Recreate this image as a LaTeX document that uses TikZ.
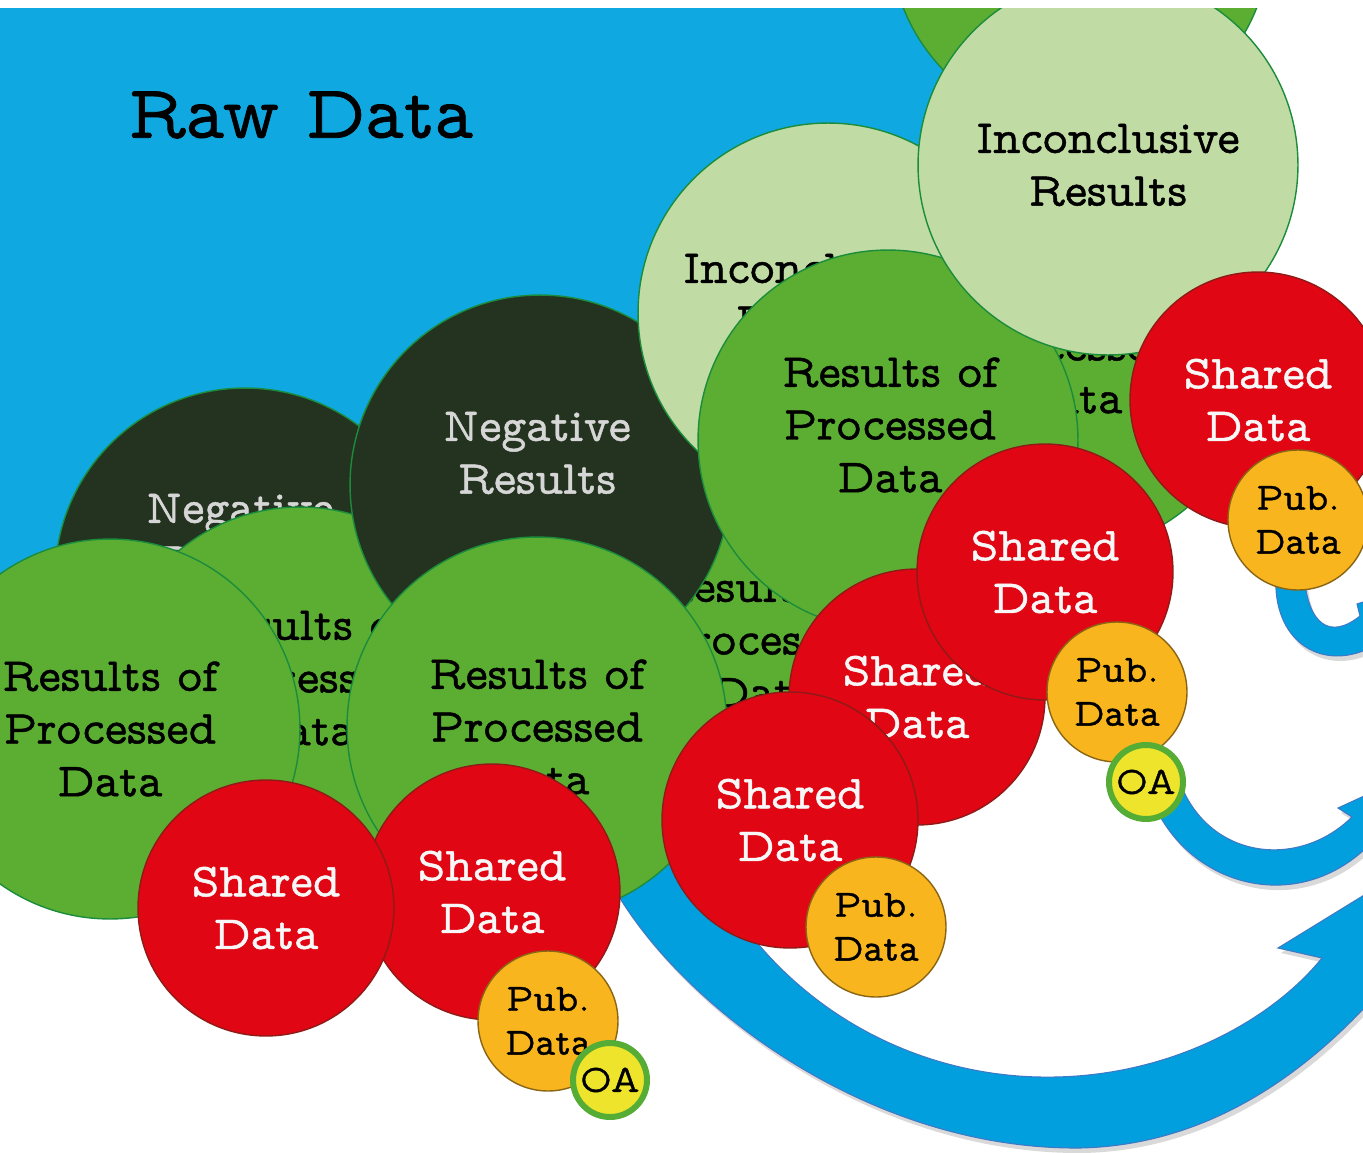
\documentclass[tikz,border=0pt]{standalone}
\usepackage{fontspec}
\usepackage{tikz}
\usetikzlibrary{shapes,positioning,shadows}
\newfontfamily\typewr{lmmonoprop10-regular.otf}[FakeBold=1.0]

\definecolor{rawblue}{HTML}{10A8E0}
\definecolor{flowblue}{HTML}{029FDF}
\definecolor{flowrim}{HTML}{3F78C4}
\definecolor{procgreen}{HTML}{5BAE32}
\definecolor{rimgreen}{HTML}{1B8C3C}
\definecolor{palegreen}{HTML}{C0DBA3}
\definecolor{negdark}{HTML}{243320}
\definecolor{negink}{HTML}{D6D6D6}
\definecolor{sharered}{HTML}{E10613}
\definecolor{redrim}{HTML}{8E1B17}
\definecolor{puborange}{HTML}{F8B51D}
\definecolor{orangerim}{HTML}{8A6516}
\definecolor{oayellow}{HTML}{EEE42B}
\definecolor{oarim}{HTML}{56AD35}

\begin{document}
\begin{tikzpicture}[x=0.02cm, y=-0.02cm,
    bubble/.style={circle, inner sep=0pt, align=center, line width=0.8pt,
        font=\typewr\fontsize{27}{30}\selectfont},
    results/.style={bubble, minimum size=7.6cm, fill=procgreen, draw=rimgreen},
    unclear/.style={bubble, minimum size=7.6cm, fill=palegreen, draw=rimgreen},
    negative/.style={bubble, minimum size=7.6cm, fill=negdark, draw=rimgreen},
    caption/.style={align=center, font=\typewr\fontsize{27}{30}\selectfont},
    negtext/.style={caption, text=negink},
    shared/.style={bubble, minimum size=5.12cm, fill=sharered, draw=redrim, text=white!94!gray},
    pub/.style={bubble, minimum size=2.8cm, fill=puborange, draw=orangerim,
        font=\typewr\fontsize{22}{25}\selectfont},
    oa/.style={bubble, minimum size=1.48cm, fill=oayellow, draw=oarim, line width=0.12cm,
        font=\typewr\fontsize{22}{25}\selectfont},
    flow/.style={fill=flowblue, draw=flowrim, line width=0.6pt,
        drop shadow={shadow xshift=0.6mm, shadow yshift=-1mm, opacity=0.25, fill=black!60}}
]
    \useasboundingbox (0,0) rectangle (1363,1153);
    \clip (0,8) rectangle (1363,1153);

    % raw data field
    \fill[rawblue] (0,8) rectangle (1000,780);
    \node[font=\typewr\fontsize{43}{48}\selectfont] (title) at (301,115) {Raw Data};

    % flows out to the right
    \filldraw[flow] (600,860) .. controls (650,980) and (850,1150) .. (1080,1148)
        .. controls (1220,1145) and (1320,1060) .. (1385,985)
        -- (1425,1000) -- (1470,830) -- (1278,948) -- (1322,958)
        .. controls (1270,1022) and (1170,1075) .. (1055,1077)
        .. controls (900,1080) and (760,990) .. (700,850) -- cycle;
    \filldraw[flow] (1150,795) .. controls (1185,888) and (1300,918) .. (1372,842)
        -- (1392,850) -- (1425,768) -- (1338,808) -- (1352,817)
        .. controls (1300,868) and (1215,860) .. (1183,790) -- cycle;
    \filldraw[flow] (1276,575) .. controls (1272,640) and (1320,672) .. (1370,648)
        -- (1390,650) -- (1400,590) -- (1357,604) -- (1360,616)
        .. controls (1330,640) and (1308,625) .. (1304,575) -- cycle;

    % results, back to front
    \node[results] (topres) at (1080,-62) {};
    \node[results] (backres) at (1065,362) {};
    \node[caption] (backres-t) at (1070,346) {Results of\\Processed\\Data};
    \node[results] (midres) at (760,652) {};
    \node[caption] (midres-t) at (765,640) {Results of\\Processed\\Data};
    \node[negative] (negleft) at (245,578) {};
    \node[negtext] (negleft-t) at (240,535) {Negative\\Results};
    \node[results] (backleft) at (300,697) {};
    \node[caption] (backleft-t) at (302,678) {Results of\\Processed\\Data};
    \node[negative] (negright) at (540,485) {};
    \node[negtext] (negright-t) at (537,453) {Negative\\Results};
    \node[unclear] (unclearleft) at (828,313) {};
    \node[caption] (unclearleft-t) at (815,295) {Inconclusive\\Results};
    \node[results] (frontres) at (888,440) {};
    \node[caption] (frontres-t) at (890,425) {Results of\\Processed\\Data};
    \node[unclear] (unclearright) at (1108,165) {Inconclusive\\Results};
    \node[results] (leftres) at (110,729) {Results of\\Processed\\Data};
    \node[results] (centerres) at (537,727) {Results of\\Processed\\Data};

    % shared, published, open access
    \foreach \nm/\px/\py in {shareA/1258/400, shareB/917/697, shareC/1045/572,
                             shareD/790/820, shareE/492/892, shareF/266/908}
        \node[shared] (\nm) at (\px,\py) {Shared\\Data};
    \foreach \nm/\px/\py in {pubA/1298/520, pubB/1117/692, pubC/876/927, pubD/548/1021}
        \node[pub] (\nm) at (\px,\py) {Pub.\\Data};
    \foreach \nm/\px/\py in {oaA/1146/782, oaB/610/1080}
        \node[oa] (\nm) at (\px,\py) {OA};
\end{tikzpicture}
\end{document}
